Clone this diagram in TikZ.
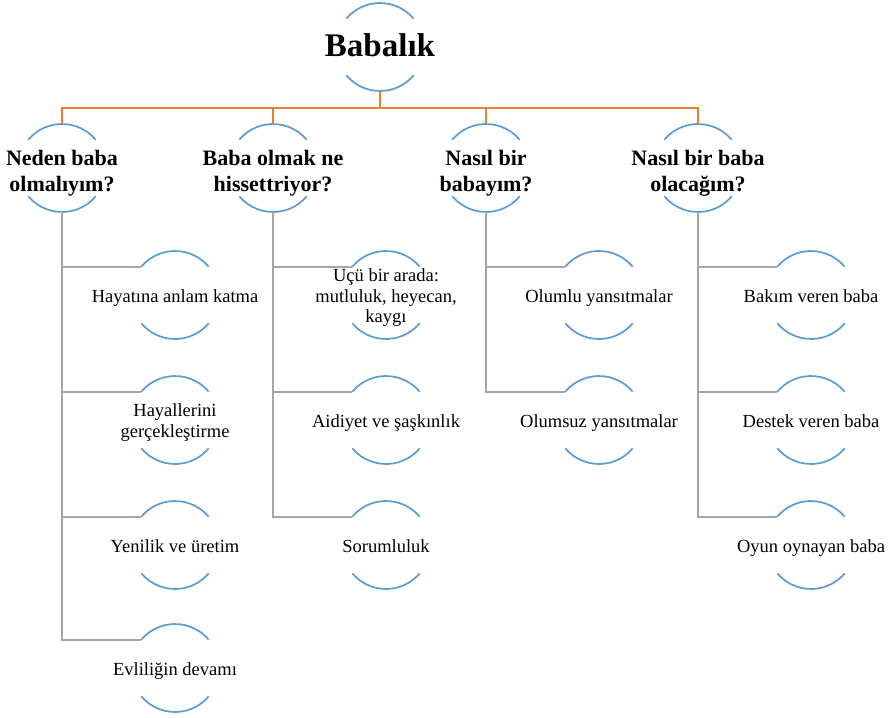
\documentclass[tikz,border=0pt]{standalone}
\usepackage{fontspec}
\setmainfont{Liberation Serif}
\definecolor{arcblue}{RGB}{91,155,213}
\definecolor{busorange}{RGB}{237,125,49}
\definecolor{linkgray}{RGB}{165,165,165}
\newcommand{\ringtext}[2][3pt]{\makebox[0pt]{\raisebox{-#1}[\height][\depth]{\begin{tabular}{@{}c@{}}#2\end{tabular}}}}

\begin{document}
\begin{tikzpicture}[
  x=1pt, y=-1pt,
  ring/.style = {circle, minimum size=88pt, inner sep=0pt, outer sep=0pt},
  headnode/.style = {ring, font=\fontsize{33}{36}\selectfont\bfseries},
  question/.style = {ring, font=\fontsize{22}{26.5}\selectfont\bfseries},
  answer/.style = {ring, font=\fontsize{18.5}{20.5}\selectfont},
  arcline/.style = {draw=arcblue, line width=1.7pt},
  busline/.style = {draw=busorange, line width=1.8pt},
  linkline/.style = {draw=linkgray, line width=1.8pt}
]
  \useasboundingbox (0,0) rectangle (890,717);

  \node[headnode] (root) at (380,47) {\ringtext[2pt]{Babalık}};

  \node[question] (q1) at (62,168)  {\ringtext[5pt]{Neden baba\\olmalıyım?}};
  \node[question] (q2) at (273,168) {\ringtext[5pt]{Baba olmak ne\\hissettriyor?}};
  \node[question] (q3) at (486,168) {\ringtext[5pt]{Nasıl bir\\babayım?}};
  \node[question] (q4) at (698,168) {\ringtext[5pt]{Nasıl bir baba\\olacağım?}};

  \node[answer] (a11) at (175,295) {\ringtext{Hayatına anlam katma}};
  \node[answer] (a12) at (175,420) {\ringtext{Hayallerini\\gerçekleştirme}};
  \node[answer] (a13) at (175,545) {\ringtext{Yenilik ve üretim}};
  \node[answer] (a14) at (175,668) {\ringtext{Evliliğin devamı}};

  \node[answer] (a21) at (386,295) {\ringtext{Üçü bir arada:\\mutluluk, heyecan,\\kaygı}};
  \node[answer] (a22) at (386,420) {\ringtext{Aidiyet ve şaşkınlık}};
  \node[answer] (a23) at (386,545) {\ringtext{Sorumluluk}};

  \node[answer] (a31) at (599,295) {\ringtext{Olumlu yansıtmalar}};
  \node[answer] (a32) at (599,420) {\ringtext{Olumsuz yansıtmalar}};

  \node[answer] (a41) at (811,295) {\ringtext{Bakım veren baba}};
  \node[answer] (a42) at (811,420) {\ringtext{Destek veren baba}};
  \node[answer] (a43) at (811,545) {\ringtext{Oyun oynayan baba}};

  % arcs above and below each text
  \foreach \n in {root,q1,q2,q3,q4,a11,a12,a13,a14,a21,a22,a23,a31,a32,a41,a42,a43} {
    \draw[arcline] (\n.40) arc[start angle=40, end angle=140, radius=44pt];
    \draw[arcline] (\n.220) arc[start angle=220, end angle=320, radius=44pt];
  }

  % orange bus
  \coordinate (bus) at (380,108);
  \draw[busline] (root.south) -- (bus);
  \draw[busline] (q1.north) |- (bus) -| (q4.north);
  \draw[busline] (bus -| q2) -- (q2.north);
  \draw[busline] (bus -| q3) -- (q3.north);

  % gray links
  \foreach \q/\a in {q1/a11,q1/a12,q1/a13,q1/a14,q2/a21,q2/a22,q2/a23,q3/a31,q3/a32,q4/a41,q4/a42,q4/a43}
    \draw[linkline] (\q.south) |- (\a.140);
\end{tikzpicture}
\end{document}
